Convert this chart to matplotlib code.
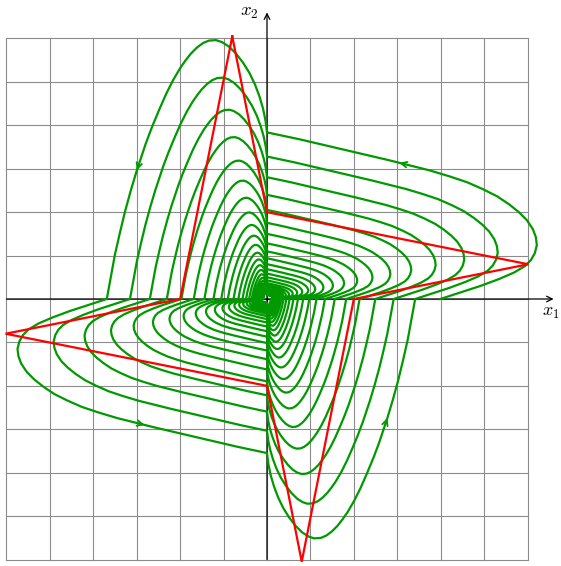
import numpy as np
import matplotlib.pyplot as plt

plt.rcParams['mathtext.fontset'] = 'cm'

GREEN = '#009900'

# where the spiral cuts the axes, outermost first:
# x1+, x2+, x1-, x2-, x1+, ...
crossings = [3.99, 3.837, 3.689, 3.548, 3.412, 3.281, 3.155, 3.034, 2.917, 2.805,
             2.698, 2.594, 2.494, 2.399, 2.307, 2.218, 2.133, 2.051, 1.972, 1.897,
             1.824, 1.754, 1.687, 1.622, 1.560, 1.500, 1.442, 1.387, 1.334, 1.282,
             1.233, 1.186, 1.140, 1.097, 1.054, 1.014, 0.975, 0.938, 0.902, 0.867,
             0.834, 0.802, 0.771, 0.741, 0.713, 0.686, 0.659, 0.634, 0.610, 0.586,
             0.564, 0.542, 0.521, 0.501, 0.482, 0.463, 0.446, 0.429, 0.412, 0.396,
             0.381, 0.366, 0.352, 0.339, 0.326, 0.313, 0.301, 0.290, 0.279, 0.268,
             0.258, 0.248, 0.238, 0.229, 0.220, 0.212, 0.204, 0.196, 0.188, 0.181,
             0.174, 0.167, 0.161, 0.155, 0.149, 0.143, 0.137, 0.132, 0.127, 0.122,
             0.117, 0.113, 0.108, 0.104, 0.100, 0.096, 0.092, 0.089, 0.085, 0.082]

# outermost arc in quadrant 1 (from x1 axis round to x2 axis)
q1_x = [4.007, 4.468, 4.929, 5.366, 5.712, 5.965, 6.103, 6.195, 6.241, 6.218,
        6.149, 6.011, 5.827, 5.596, 5.320, 4.998, 4.629, 4.215, 3.754, 3.293,
        3.063, 2.833, 2.142, 1.451, 0.760, 0.000]
q1_y = [0.000, 0.150, 0.299, 0.461, 0.610, 0.760, 0.898, 1.059, 1.244, 1.428,
        1.612, 1.819, 2.004, 2.188, 2.372, 2.533, 2.695, 2.833, 2.971, 3.086,
        3.144, 3.201, 3.363, 3.524, 3.685, 3.846]
q1_arrow = 20

# outermost arc in quadrant 2 (from x2 axis over the top to x1 axis)
q2_x = [0.000, -0.035, -0.092, -0.173, -0.276, -0.403, -0.553, -0.714, -0.875, -1.036,
        -1.174, -1.336, -1.474, -1.612, -1.750, -1.877, -2.004, -2.165, -2.326, -2.487,
        -2.649, -2.787, -2.902, -2.994, -3.132, -3.270, -3.386, -3.501, -3.593, -3.685]
q2_y = [3.846, 4.122, 4.399, 4.675, 4.952, 5.216, 5.458, 5.666, 5.827, 5.930,
        5.976, 5.965, 5.907, 5.804, 5.666, 5.504, 5.320, 5.044, 4.721, 4.353,
        3.961, 3.593, 3.247, 2.971, 2.510, 2.004, 1.520, 1.013, 0.507, 0.000]
q2_arrow = 23

# red switching polygon
red_x = [-0.8, 0.0, 6.02, 2.0, 0.8, 0.0, -6.02, -2.0, -0.8]
red_y = [6.05, 2.0, 0.8, 0.0, -6.05, -2.0, -0.8, 0.0, 6.05]

q1_x, q1_y = np.array(q1_x), np.array(q1_y)
q2_x, q2_y = np.array(q2_x), np.array(q2_y)

fig = plt.figure(figsize=(5.61, 5.66), dpi=100)
ax = fig.add_axes([0, 0, 1, 1])
ax.set_xlim(-6.149, 6.771)
ax.set_ylim(-6.149, 6.886)
ax.axis('off')

# grid
for v in range(-6, 7):
    ax.plot([v, v], [-6, 6], color='#8c8c8c', lw=0.8, zorder=1)
    ax.plot([-6, 6], [v, v], color='#8c8c8c', lw=0.8, zorder=1)

# axes
ax.annotate('', xy=(6.6, 0), xytext=(-6, 0),
            arrowprops=dict(arrowstyle='->', color='black', lw=0.9, shrinkA=0, shrinkB=0), zorder=2)
ax.annotate('', xy=(0, 6.6), xytext=(0, -6),
            arrowprops=dict(arrowstyle='->', color='black', lw=0.9, shrinkA=0, shrinkB=0), zorder=2)
ax.text(6.53, -0.1, r'$x_1$', fontsize=13, ha='center', va='top')
ax.text(-0.2, 6.62, r'$x_2$', fontsize=13.5, ha='right', va='center')

# spiral, one arc per quadrant crossing
xs, ys = [], []
arrows = []
for n in range(len(crossings) - 1):
    a, b = crossings[n], crossings[n + 1]
    k = n % 4
    if k == 0:
        px, py = q1_x * a / q1_x[0], q1_y * b / q1_y[-1]
        ia = q1_arrow
    elif k == 1:
        px, py = q2_x * b / -q2_x[-1], q2_y * a / q2_y[0]
        ia = q2_arrow
    elif k == 2:
        px, py = -q1_x * a / q1_x[0], -q1_y * b / q1_y[-1]
        ia = q1_arrow
    else:
        px, py = -q2_x * b / -q2_x[-1], -q2_y * a / q2_y[0]
        ia = q2_arrow
    xs.extend(px)
    ys.extend(py)
    if n < 4:
        arrows.append((px[ia - 1], py[ia - 1], px[ia], py[ia]))

ax.plot(xs, ys, color=GREEN, lw=1.6, zorder=3, solid_joinstyle='round')
for x0, y0, x1, y1 in arrows:
    ax.annotate('', xy=(x1, y1), xytext=(x0 + 0.5 * (x1 - x0), y0 + 0.5 * (y1 - y0)),
                arrowprops=dict(arrowstyle='->', color=GREEN, lw=1.3,
                                shrinkA=0, shrinkB=0, mutation_scale=10), zorder=3)

ax.plot(red_x, red_y, color='red', lw=1.6, zorder=4, solid_joinstyle='miter')
ax.plot([0], [0], marker='+', color='black', ms=3, mew=0.8, zorder=5)

fig.savefig('out.png', dpi=100)
